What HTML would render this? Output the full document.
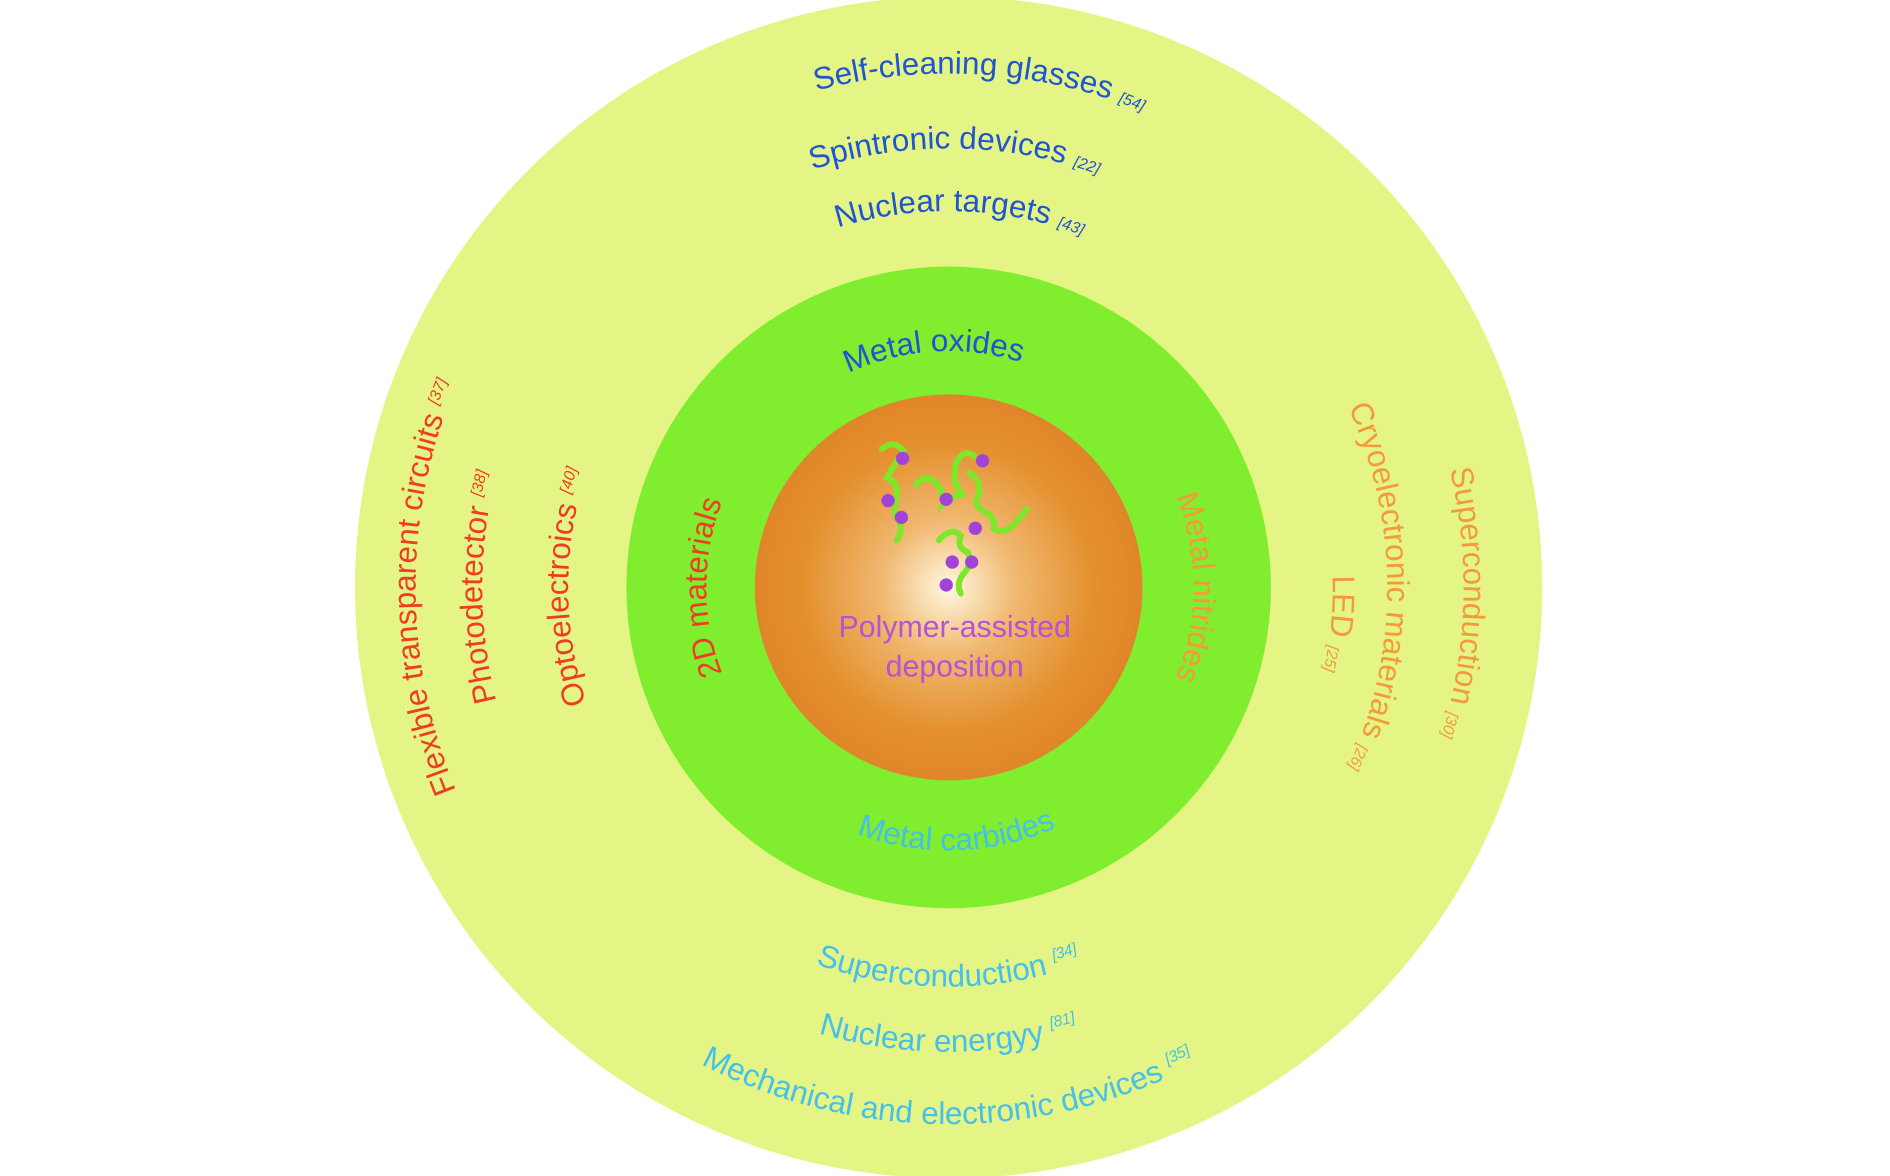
<!DOCTYPE html>
<html><head><meta charset="utf-8"><style>
html,body{margin:0;padding:0;background:#fff;}
svg{display:block;}
text{font-family:"Liberation Sans",sans-serif;}
.r{font-style:italic;font-size:13px;}
</style></head><body>
<svg width="1890" height="1176" viewBox="0 0 1560 975" preserveAspectRatio="none" xmlns="http://www.w3.org/2000/svg">
<defs>
<radialGradient id="og" cx="0.5" cy="0.5" r="0.5">
<stop offset="0" stop-color="#fff8e0"/>
<stop offset="0.35" stop-color="#f0b870"/>
<stop offset="0.75" stop-color="#e4902e"/>
<stop offset="1" stop-color="#e0862a"/>
</radialGradient>
<path id="t414" d="M357,487 A426,426 0 0 1 1209,487"/>
<path id="t357" d="M419,487 A364,364 0 0 1 1147,487"/>
<path id="t304" d="M471,487 A312,312 0 0 1 1095,487"/>
<path id="t189" d="M587,487 A196,196 0 0 1 979,487"/>
<path id="b213" d="M565,487 A218,218 0 0 0 1001,487"/>
<path id="b331" d="M452,487 A331,331 0 0 0 1114,487"/>
<path id="b383" d="M398,487 A385,385 0 0 0 1168,487"/>
<path id="b435" d="M338,487 A445,445 0 0 0 1228,487"/>
<path id="l428" d="M783,927 A440,440 0 0 1 783,47"/>
<path id="l375" d="M783,872 A385,385 0 0 1 783,102"/>
<path id="l301" d="M783,801 A314,314 0 0 1 783,173"/>
<path id="l188" d="M783,687 A200,200 0 0 1 783,287"/>
<path id="r192" d="M783,285 A202,202 0 0 1 783,689"/>
<path id="r315" d="M783,170 A317,317 0 0 1 783,804"/>
<path id="r350" d="M783,125 A362,362 0 0 1 783,849"/>
<path id="r420" d="M783,62 A425,425 0 0 1 783,912"/>
</defs>
<circle cx="783" cy="487" r="490" fill="#e5f585"/>
<circle cx="783" cy="487" r="266" fill="#80ee2e"/>
<circle cx="783" cy="487" r="160" fill="url(#og)"/>

<g font-size="26">
<text fill="#1f55d0"><textPath href="#t414" startOffset="52%" text-anchor="middle">Self-cleaning glasses <tspan class="r">[54]</tspan></textPath></text>
<text fill="#1f55d0"><textPath href="#t357" startOffset="50.5%" text-anchor="middle">Spintronic devices <tspan class="r">[22]</tspan></textPath></text>
<text fill="#1f55d0"><textPath href="#t304" startOffset="51%" text-anchor="middle">Nuclear targets <tspan class="r">[43]</tspan></textPath></text>
<text fill="#1f55d0"><textPath href="#t189" startOffset="48%" text-anchor="middle">Metal oxides</textPath></text>
<text fill="#46c0ea"><textPath href="#b213" startOffset="51%" text-anchor="middle">Metal carbides</textPath></text>
<text fill="#46c0ea"><textPath href="#b331" startOffset="50%" text-anchor="middle">Superconduction <tspan class="r" dy="-10">[34]</tspan></textPath></text>
<text fill="#46c0ea"><textPath href="#b383" startOffset="50%" text-anchor="middle">Nuclear energyy <tspan class="r" dy="-10">[81]</tspan></textPath></text>
<text fill="#46c0ea"><textPath href="#b435" startOffset="50%" text-anchor="middle">Mechanical and electronic devices <tspan class="r" dy="-10">[35]</tspan></textPath></text>
<text fill="#ee3d24"><textPath href="#l428" startOffset="50%" text-anchor="middle">Flexible transparent circuits <tspan class="r" dy="-8">[37]</tspan></textPath></text>
<text fill="#ee3d24"><textPath href="#l375" startOffset="50%" text-anchor="middle">Photodetector <tspan class="r" dy="-8">[38]</tspan></textPath></text>
<text fill="#ee3d24"><textPath href="#l301" startOffset="50%" text-anchor="middle">Optoelectroics <tspan class="r" dy="-8">[40]</tspan></textPath></text>
<text fill="#ee3d24"><textPath href="#l188" startOffset="50%" text-anchor="middle">2D materials</textPath></text>
<text fill="#f39a3c"><textPath href="#r192" startOffset="50%" text-anchor="middle">Metal nitrides</textPath></text>
<text fill="#f39a3c"><textPath href="#r315" startOffset="53%" text-anchor="middle">LED <tspan class="r">[25]</tspan></textPath></text>
<text fill="#f39a3c"><textPath href="#r350" startOffset="50%" text-anchor="middle">Cryoelectronic materials <tspan class="r">[26]</tspan></textPath></text>
<text fill="#f39a3c"><textPath href="#r420" startOffset="51%" text-anchor="middle">Superconduction <tspan class="r">[30]</tspan></textPath></text>
</g>
<text x="788" y="528" font-size="25" fill="#b552d6" text-anchor="middle">Polymer-assisted</text>
<text x="788" y="561" font-size="25" fill="#b552d6" text-anchor="middle">deposition</text>

<g fill="none" stroke="#7de82a" stroke-width="5" stroke-linecap="round">
<path d="M728,372 q10,-8 18,2 q-8,12 -14,22 q10,4 8,16 q-4,12 2,20 q4,8 -2,16"/>
<path d="M756,402 q8,-10 16,-2 q8,8 6,18 q6,-6 16,-8 q-10,-14 -4,-28 q6,-10 14,-4"/>
<path d="M800,392 q10,6 8,18 q-6,8 4,14 q10,4 8,14 q8,6 18,-4 q6,-8 10,-12"/>
<path d="M775,448 q10,-12 18,-4 q-4,10 6,14 q4,10 -4,18 q-6,8 -2,16"/>
</g>
<g fill="#a243d8">
<circle cx="745" cy="380" r="5.5"/><circle cx="811" cy="382" r="5.5"/>
<circle cx="733" cy="415" r="5.5"/><circle cx="781" cy="414" r="5.5"/>
<circle cx="744" cy="429" r="5.5"/><circle cx="805" cy="438" r="5.5"/>
<circle cx="786" cy="466" r="5.5"/><circle cx="802" cy="466" r="5.5"/>
<circle cx="781" cy="485" r="5.5"/>
</g>
</svg>
</body></html>
